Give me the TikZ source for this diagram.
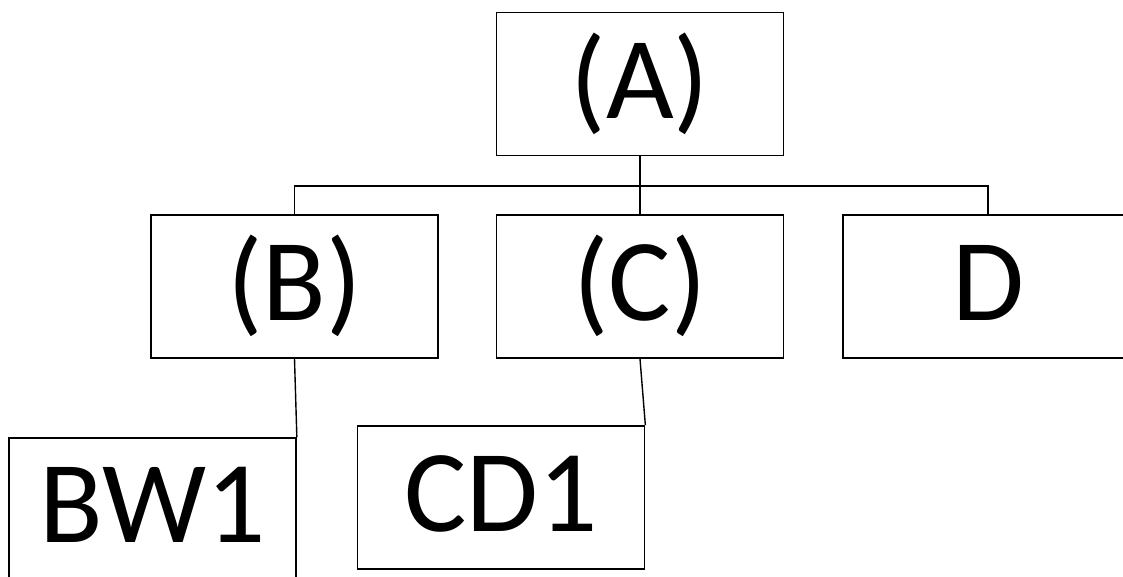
\documentclass[tikz,border=0pt]{standalone}
\usepackage{fontspec}
\setmainfont{Carlito}
\begin{document}
\begin{tikzpicture}[x=1pt,y=-1pt,
  box/.style={draw=black, line width=1.7pt, rectangle, inner sep=0pt,
    minimum width=#1, minimum height=143pt, text height=68pt, text depth=0pt,
    font=\fontsize{117}{120}\selectfont},
  box/.default=287pt,
  link/.style={draw=black, line width=1.4pt}]
\clip (0,0) rectangle (1123,576);
\fill[white] (0,0) rectangle (1123,576);

% top level
\node[box] (A) at (640,84) {(A)};

% second level
\node[box] (B) at (294.5,286.5) {(B)};
\node[box] (C) at (640,286.5) {(C)};
\node[box=290pt] (D) at (988,286.5) {D};

% third level
\node[box, minimum height=140pt] (BW1) at (152.5,508) {BW1};
\node[box] (CD1) at (501,497.5) {CD1};

% connectors
\coordinate (bus) at (640,186);
\draw[link] (A.south) -- (C.north);
\draw[link] (B.north) |- (bus) -| (D.north);
\draw[link] (B.south) -- (BW1.north east);
\draw[link] (C.south) -- (CD1.north east);
\end{tikzpicture}
\end{document}
